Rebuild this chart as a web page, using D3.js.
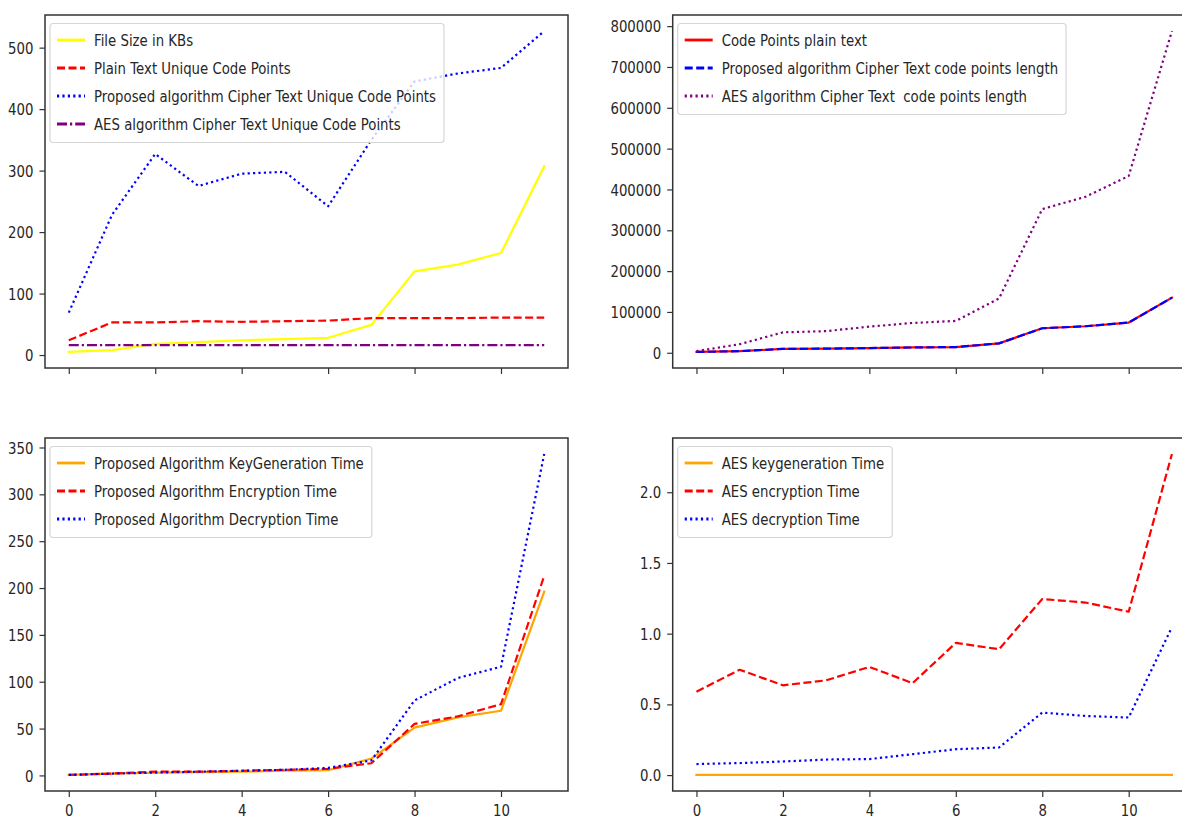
<!DOCTYPE html>
<html>
<head>
<meta charset="utf-8">
<script src="https://cdn.jsdelivr.net/npm/d3@7"></script>
<style>
html,body{margin:0;padding:0;background:#fff;overflow:hidden;}
svg{display:block;}
text{font-family:"DejaVu Sans",sans-serif;}
</style>
</head>
<body>
<svg id="chart" width="1182" height="818"></svg>
<script>
// ---------- data ----------
const xValues = [0, 1, 2, 3, 4, 5, 6, 7, 8, 9, 10, 11];
const xTicks = [0, 2, 4, 6, 8, 10];

// panel 1 (top-left)
const fileSizeKB      = [5, 8, 18, 21, 24, 26, 28, 49, 136, 147, 166, 307];
const plainUnique     = [24, 53, 53, 55, 54, 55, 56, 60, 60, 60, 61, 61];
const proposedUnique  = [69, 228, 327, 275, 295, 298, 242, 350, 445, 458, 467, 527];
const aesUnique       = [16, 16, 16, 16, 16, 16, 16, 16, 16, 16, 16, 16];
const yTicks1 = [0, 100, 200, 300, 400, 500];

// panel 2 (top-right)
const plainCodePoints   = [2000, 4000, 9500, 10000, 11500, 13000, 14000, 23000, 60000, 65000, 74000, 135000];
const proposedCipherLen = [2000, 4000, 9500, 10000, 11500, 13000, 14000, 23000, 60000, 65000, 74000, 135000];
const aesCipherLen      = [4000, 21000, 50000, 53000, 64000, 73000, 78000, 133000, 352000, 382000, 433000, 788000];
const yTicks2 = [0, 100000, 200000, 300000, 400000, 500000, 600000, 700000, 800000];

// panel 3 (bottom-left)
const propKeyGen = [0.5, 2, 3, 3.5, 4, 5, 5.5, 18, 51, 62, 69, 196];
const propEnc    = [0.5, 2, 4, 4, 5, 6, 7, 13, 55, 63, 76, 213];
const propDec    = [0.5, 2, 3, 4, 5, 6, 8, 16, 80, 104, 116, 343];
const yTicks3 = [0, 50, 100, 150, 200, 250, 300, 350];

// panel 4 (bottom-right)
const aesKeyGen = [0.001, 0.001, 0.001, 0.001, 0.001, 0.001, 0.001, 0.001, 0.001, 0.001, 0.001, 0.001];
const aesEnc    = [0.59, 0.745, 0.635, 0.67, 0.765, 0.65, 0.935, 0.89, 1.245, 1.22, 1.155, 2.27];
const aesDec    = [0.078, 0.085, 0.096, 0.11, 0.113, 0.148, 0.183, 0.195, 0.442, 0.418, 0.407, 1.046];
const yTicks4 = [0.0, 0.5, 1.0, 1.5, 2.0];

// ---------- styles ----------
const LW = 2.2;
const DASH = {solid: null, dashed: "8,3.5", dotted: "2.2,3.2", dashdot: "10,3,2.2,3"};

const panels = [
  {left: 45, top: 15, xLabels: false, yTicks: yTicks1, fmt: d3.format("d"),
   series: [
     {name: "File Size in KBs", values: fileSizeKB, color: "#ffff00", style: "solid"},
     {name: "Plain Text Unique Code Points", values: plainUnique, color: "#ff0000", style: "dashed"},
     {name: "Proposed algorithm Cipher Text Unique Code Points", values: proposedUnique, color: "#0000ff", style: "dotted"},
     {name: "AES algorithm Cipher Text Unique Code Points", values: aesUnique, color: "#800080", style: "dashdot"}
   ]},
  {left: 672.7, top: 15, xLabels: false, yTicks: yTicks2, fmt: d3.format("d"),
   series: [
     {name: "Code Points plain text", values: plainCodePoints, color: "#ff0000", style: "solid"},
     {name: "Proposed algorithm Cipher Text code points length", values: proposedCipherLen, color: "#0000ff", style: "dashed"},
     {name: "AES algorithm Cipher Text  code points length", values: aesCipherLen, color: "#800080", style: "dotted"}
   ]},
  {left: 45, top: 438, xLabels: true, yTicks: yTicks3, fmt: d3.format("d"),
   series: [
     {name: "Proposed Algorithm KeyGeneration Time", values: propKeyGen, color: "#ffa500", style: "solid"},
     {name: "Proposed Algorithm Encryption Time", values: propEnc, color: "#ff0000", style: "dashed"},
     {name: "Proposed Algorithm Decryption Time", values: propDec, color: "#0000ff", style: "dotted"}
   ]},
  {left: 672.7, top: 438, xLabels: true, yTicks: yTicks4, fmt: d3.format(".1f"),
   series: [
     {name: "AES keygeneration Time", values: aesKeyGen, color: "#ffa500", style: "solid"},
     {name: "AES encryption Time", values: aesEnc, color: "#ff0000", style: "dashed"},
     {name: "AES decryption Time", values: aesDec, color: "#0000ff", style: "dotted"}
   ]}
];

const W = 523, H = 353;
const FS = 13.3, SY = 1.17; // font size and vertical stretch
const svg = d3.select("#chart");

function stretch(sel) {
  sel.attr("font-size", FS).attr("fill", "#262626").attr("font-family", "DejaVu Sans");
}

panels.forEach(p => {
  const g = svg.append("g").attr("transform", `translate(${p.left},${p.top})`);
  const xs = d3.extent(xValues);
  const xr = xs[1] - xs[0];
  const x = d3.scaleLinear().domain([xs[0] - 0.05 * xr, xs[1] + 0.05 * xr]).range([0, W]);
  const all = p.series.flatMap(s => s.values);
  const ys = d3.extent(all);
  const yr = ys[1] - ys[0];
  const y = d3.scaleLinear().domain([ys[0] - 0.05 * yr, ys[1] + 0.05 * yr]).range([H, 0]);

  // lines
  const line = d3.line().x((d, i) => x(xValues[i])).y(d => y(d));
  p.series.forEach(s => {
    g.append("path").datum(s.values)
      .attr("d", line)
      .attr("fill", "none")
      .attr("stroke", s.color)
      .attr("stroke-width", LW)
      .attr("stroke-linejoin", "round")
      .attr("stroke-linecap", s.style === "solid" ? "square" : "butt")
      .attr("stroke-dasharray", DASH[s.style]);
  });

  // frame
  g.append("rect").attr("x", 0).attr("y", 0).attr("width", W).attr("height", H)
    .attr("fill", "none").attr("stroke", "#333").attr("stroke-width", 1.5);

  // y axis
  const ya = g.append("g").call(d3.axisLeft(y).tickValues(p.yTicks).tickFormat(p.fmt)
      .tickSize(5.5).tickSizeOuter(0).tickPadding(6));
  ya.select(".domain").remove();
  ya.selectAll("line").attr("stroke", "#333").attr("stroke-width", 1.2);
  ya.selectAll("text").call(stretch).attr("dy", "0.36em")
    .attr("transform", `scale(1,${SY})`);

  // x axis
  const xa = g.append("g").attr("transform", `translate(0,${H})`)
    .call(d3.axisBottom(x).tickValues(xTicks).tickFormat(p.xLabels ? d3.format("d") : () => "")
      .tickSize(6).tickSizeOuter(0));
  xa.select(".domain").remove();
  xa.selectAll("line").attr("stroke", "#333").attr("stroke-width", 1.2);
  xa.selectAll("text").call(stretch).attr("dy", 0).attr("y", 25.4 / SY)
    .attr("transform", `scale(1,${SY})`);

  // legend
  const lg = g.append("g").attr("transform", "translate(5,8.5)");
  const box = lg.append("rect");
  const rowH = 28, first = 16.5;
  let maxW = 0;
  p.series.forEach((s, i) => {
    const cy = first + i * rowH;
    lg.append("line").attr("x1", 7).attr("x2", 35).attr("y1", cy).attr("y2", cy)
      .attr("stroke", s.color).attr("stroke-width", LW + 0.6)
      .attr("stroke-dasharray", DASH[s.style]);
    const t = lg.append("text")
      .attr("transform", `translate(44,${cy}) scale(1,${SY})`)
      .attr("dy", "0.36em")
      .style("white-space", "pre")
      .text(s.name);
    stretch(t);
    maxW = Math.max(maxW, t.node().getComputedTextLength());
  });
  box.attr("x", 0).attr("y", 0).attr("rx", 3).attr("ry", 3)
    .attr("width", 44 + maxW + 8).attr("height", rowH * p.series.length + 7)
    .attr("fill", "#fff").attr("fill-opacity", 0.8)
    .attr("stroke", "#d6d6d6").attr("stroke-width", 1.2);
});
</script>
</body>
</html>
